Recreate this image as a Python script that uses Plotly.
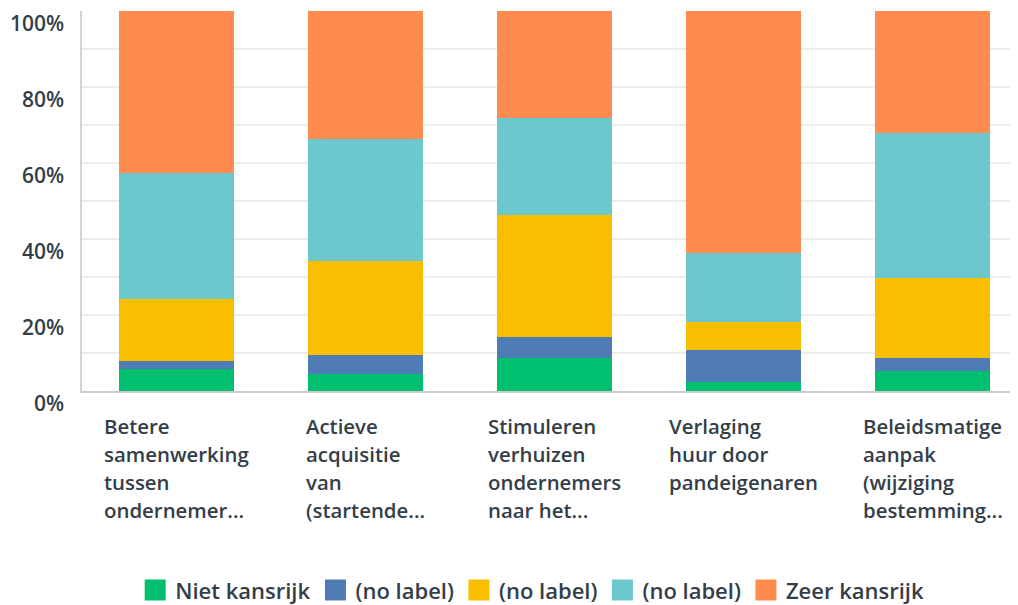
import plotly.graph_objects as go

# ---------------- data ----------------
categories = ["Betere samenwerking", "Actieve acquisitie", "Stimuleren verhuizen",
              "Verlaging huur", "Beleidsmatige aanpak"]
category_lines = [
    ["Betere", "samenwerking", "tussen", "ondernemer..."],
    ["Actieve", "acquisitie", "van", "(startende..."],
    ["Stimuleren", "verhuizen", "ondernemers", "naar het..."],
    ["Verlaging", "huur door", "pandeigenaren"],
    ["Beleidsmatige", "aanpak", "(wijziging", "bestemming..."],
]
series_names = ["Niet kansrijk", "(no label)", "(no label)", "(no label)", "Zeer kansrijk"]
niet_kansrijk = [5.7, 4.6, 8.7, 2.4, 5.2]
no_label_1 = [2.2, 5.0, 5.4, 8.4, 3.4]
no_label_2 = [16.2, 24.5, 32.1, 7.4, 21.1]
no_label_3 = [33.2, 32.1, 25.6, 18.0, 38.1]
zeer_kansrijk = [42.7, 33.8, 28.2, 63.8, 32.2]
y_tick_values = [0, 20, 40, 60, 80, 100]
y_tick_labels = ["0%", "20%", "40%", "60%", "80%", "100%"]

# ---------------- style ----------------
colors = ["#00BF6F", "#507CB6", "#F9BE00", "#6BC8CD", "#FF8B4F"]
text_color = "#333E48"
font_family = "Open Sans"

fig = go.Figure()
all_series = [niet_kansrijk, no_label_1, no_label_2, no_label_3, zeer_kansrijk]
for i, (name, vals, col) in enumerate(zip(series_names, all_series, colors)):
    fig.add_trace(go.Bar(
        x=categories, y=vals, name=name,
        marker=dict(color=col, line=dict(width=0)),
        hovertemplate="%{x}: %{y:.1f}%<extra>" + name + "</extra>",
        showlegend=False, legendgroup=f"s{i}",
    ))
# legend entries with larger swatches
for i, (name, col) in enumerate(zip(series_names, colors)):
    fig.add_trace(go.Scatter(
        x=[None], y=[None], mode="markers", name=name,
        marker=dict(symbol="square", size=16, color=col, line=dict(color=col, width=5)),
        showlegend=True, legendgroup=f"s{i}", hoverinfo="skip",
    ))

# category labels: left-aligned lines inside a centered block
for cat, lines in zip(categories, category_lines):
    txt = "<br>".join(f"<span style='font-size:20.4px'>{ln}</span>" for ln in lines)
    fig.add_annotation(
        x=cat, xref="x", y=-0.05, yref="paper",
        xanchor="center", yanchor="top", align="left",
        text=txt, showarrow=False,
        font=dict(family=font_family, size=21.5, color=text_color, weight=600),
    )

fig.update_layout(
    barmode="stack",
    bargap=0.392,
    width=1010, height=597,
    margin=dict(l=74, r=0, t=3, b=214, autoexpand=False),
    plot_bgcolor="white", paper_bgcolor="white",
    font=dict(family=font_family, color=text_color),
    showlegend=True,
    legend=dict(
        orientation="h", traceorder="normal",
        x=0.519, xref="container", xanchor="center",
        y=-0.524, yref="paper", yanchor="middle",
        font=dict(family=font_family, size=22, color=text_color, weight=600),
        itemwidth=30, itemsizing="trace", itemclick=False, itemdoubleclick=False,
    ),
    xaxis=dict(
        range=[-0.5, 4.45],
        showticklabels=False, ticks="",
        showgrid=False, zeroline=False,
        showline=True, linecolor="#CCCCCC", linewidth=2,
        fixedrange=True, automargin=False,
    ),
    yaxis=dict(
        range=[0, 100],
        tickvals=y_tick_values, ticktext=y_tick_labels,
        tickfont=dict(family=font_family, size=21, color=text_color, weight=600),
        ticks="", ticklabelstandoff=12, ticklabelshift=13,
        showgrid=True, gridcolor="#EDEDED", gridwidth=1.5,
        minor=dict(dtick=10, tick0=0, showgrid=True, gridcolor="#EDEDED", gridwidth=1.5),
        zeroline=False,
        showline=True, linecolor="#D3D3D3", linewidth=1.5,
        fixedrange=True, automargin=False,
    ),
)

fig.write_html("out.html")
